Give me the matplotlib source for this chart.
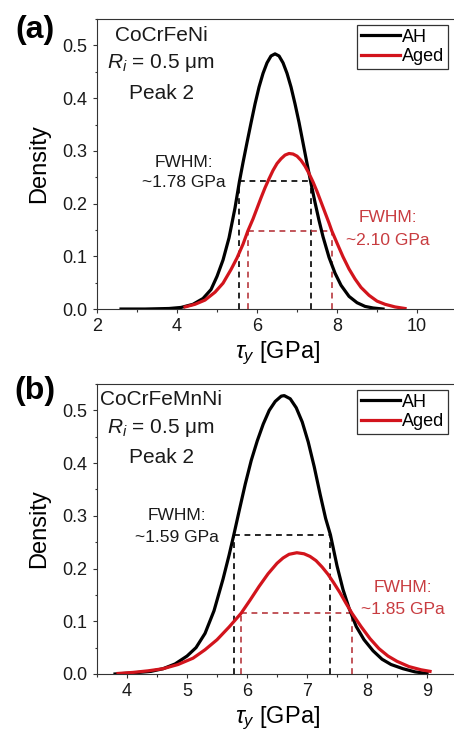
import numpy as np
import matplotlib.pyplot as plt

plt.rcParams['font.family'] = ['Liberation Sans', 'DejaVu Sans']
plt.rcParams['mathtext.fontset'] = 'custom'
plt.rcParams['mathtext.rm'] = 'Liberation Sans'
plt.rcParams['mathtext.it'] = 'Liberation Sans:italic'

# ---- panel (a) CoCrFeNi ----
a_ah_x = [2.6, 3.2, 3.8, 4.1, 4.4, 4.65, 4.85, 5.0, 5.15, 5.3, 5.45, 5.56, 5.65, 5.75, 5.85,
          5.95, 6.05, 6.15, 6.25, 6.35, 6.45, 6.55, 6.65, 6.75, 6.85, 6.95, 7.05, 7.15, 7.25,
          7.34, 7.45, 7.55, 7.65, 7.8, 7.95, 8.1, 8.3, 8.5, 8.7, 8.9, 9.15]
a_ah_y = [0.000, 0.000, 0.001, 0.003, 0.009, 0.020, 0.037, 0.062, 0.093, 0.135, 0.192, 0.242,
          0.278, 0.316, 0.353, 0.389, 0.421, 0.447, 0.467, 0.480, 0.484, 0.480, 0.467, 0.447,
          0.421, 0.389, 0.354, 0.315, 0.276, 0.242, 0.202, 0.168, 0.137, 0.098, 0.068, 0.045,
          0.024, 0.012, 0.005, 0.002, 0.000]
a_aged_x = [4.2, 4.45, 4.7, 4.95, 5.15, 5.35, 5.5, 5.65, 5.77, 5.9, 6.0, 6.1, 6.2, 6.3, 6.4,
            6.5, 6.6, 6.7, 6.8, 6.9, 7.0, 7.1, 7.2, 7.3, 7.4, 7.5, 7.6, 7.7, 7.8, 7.87, 8.0,
            8.15, 8.3, 8.45, 8.6, 8.8, 9.0, 9.2, 9.45, 9.7]
a_aged_y = [0.004, 0.009, 0.017, 0.032, 0.049, 0.075, 0.097, 0.123, 0.148, 0.171, 0.191, 0.211,
            0.230, 0.247, 0.263, 0.276, 0.285, 0.292, 0.295, 0.294, 0.290, 0.282, 0.271, 0.257,
            0.241, 0.223, 0.203, 0.183, 0.163, 0.148, 0.125, 0.099, 0.076, 0.057, 0.041, 0.026,
            0.015, 0.009, 0.004, 0.001]
a_fwhm_ah = [5.56, 7.34, 0.242]
a_fwhm_aged = [5.77, 7.87, 0.1475]

# ---- panel (b) CoCrFeMnNi ----
b_ah_x = [3.8, 4.1, 4.4, 4.6, 4.8, 5.0, 5.15, 5.3, 5.45, 5.6, 5.7, 5.78, 5.87, 5.97, 6.07,
          6.17, 6.27, 6.37, 6.47, 6.57, 6.62, 6.72, 6.82, 6.92, 7.02, 7.12, 7.22, 7.31, 7.39,
          7.5, 7.6, 7.7, 7.82, 7.95, 8.1, 8.25, 8.4, 8.6, 8.8, 9.0]
b_ah_y = [0.000, 0.002, 0.005, 0.010, 0.019, 0.034, 0.050, 0.077, 0.120, 0.180, 0.225, 0.264,
          0.310, 0.360, 0.405, 0.442, 0.474, 0.500, 0.517, 0.527, 0.528, 0.522, 0.505, 0.478,
          0.440, 0.393, 0.340, 0.295, 0.264, 0.205, 0.160, 0.125, 0.090, 0.065, 0.044, 0.028,
          0.018, 0.010, 0.004, 0.001]
b_aged_x = [3.85, 4.1, 4.35, 4.6, 4.85, 5.1, 5.3, 5.5, 5.7, 5.9, 6.05, 6.2, 6.35, 6.5, 6.6,
            6.7, 6.83, 6.95, 7.05, 7.15, 7.25, 7.35, 7.45, 7.55, 7.65, 7.75, 7.9, 8.05, 8.2,
            8.35, 8.5, 8.7, 8.9, 9.05]
b_aged_y = [0.001, 0.003, 0.006, 0.010, 0.018, 0.030, 0.046, 0.065, 0.089, 0.115, 0.140, 0.166,
            0.190, 0.210, 0.220, 0.227, 0.230, 0.228, 0.223, 0.215, 0.203, 0.189, 0.172, 0.154,
            0.134, 0.115, 0.090, 0.067, 0.048, 0.034, 0.024, 0.014, 0.008, 0.005]
b_fwhm_ah = [5.78, 7.39, 0.264]
b_fwhm_aged = [5.90, 7.75, 0.1152]

labels = ['AH', 'Aged']
fwhm_a = ['~1.78 GPa', '~2.10 GPa']
fwhm_b = ['~1.59 GPa', '~1.85 GPa']

RED = '#d2141c'
RED_D = '#b8383e'
RED_T = '#c83c40'
AX_C = '#333333'


def dashed_box(ax, f, col):
    x0, x1, h = f
    kw = dict(color=col, lw=1.2, linestyle=(0, (3.5, 2.8)), zorder=1.5)
    ax.plot([x0, x0], [0, h], **kw)
    ax.plot([x1, x1], [0, h], **kw)
    ax.plot([x0, x1], [h, h], **kw)


def panel(ax, ah_x, ah_y, ag_x, ag_y, f_ah, f_ag, alloy, txt, pos, xlim, xmaj):
    dashed_box(ax, f_ah, 'black')
    dashed_box(ax, f_ag, RED_D)
    l1, = ax.plot(ah_x, ah_y, color='black', lw=2.3, zorder=2, solid_joinstyle='round')
    l2, = ax.plot(ag_x, ag_y, color=RED, lw=2.3, zorder=2.5, solid_joinstyle='round')

    ax.set_xlim(*xlim)
    ax.set_ylim(0, 0.55)
    ax.set_xticks(np.arange(np.ceil(xlim[0]), xlim[1] + 0.01, xmaj)
                  if xmaj == 1 else np.arange(2, 11, 2))
    ax.set_xticks(np.arange(xlim[0], xlim[1] + 0.01, xmaj / 2), minor=True)
    ax.set_yticks(np.arange(0, 0.51, 0.1))
    ax.set_yticks(np.arange(0.05, 0.551, 0.1), minor=True)
    ax.yaxis.set_major_formatter(plt.FormatStrFormatter('%.1f'))
    ax.tick_params(which='both', direction='out', color=AX_C, width=0.8,
                   labelsize=13, labelcolor='#1a1a1a', top=False, right=False)
    ax.tick_params(which='major', length=3.2, pad=3.5)
    ax.tick_params(which='minor', length=1.8)
    for s in ax.spines.values():
        s.set_color(AX_C)
        s.set_linewidth(0.8)

    ax.set_ylabel('Density', fontsize=17, labelpad=9)
    ax.set_xlabel(r'$\tau_y$ [GPa]', fontsize=17, labelpad=3)

    ax.text(0.178, 0.945, alloy, transform=ax.transAxes, fontsize=15,
            ha='center', va='center', color='#1a1a1a')
    ax.text(0.178, 0.848, r'$R_i$ = 0.5 μm', transform=ax.transAxes, fontsize=15,
            ha='center', va='center', color='#1a1a1a')
    ax.text(0.178, 0.745, 'Peak 2', transform=ax.transAxes, fontsize=15,
            ha='center', va='center', color='#1a1a1a')

    (bx, by1, by2), (rx, ry1, ry2) = pos
    ax.text(bx, by1, 'FWHM:', transform=ax.transAxes, fontsize=12.5,
            ha='center', va='center', color='#1a1a1a')
    ax.text(bx, by2, txt[0], transform=ax.transAxes, fontsize=12.5,
            ha='center', va='center', color='#1a1a1a')
    ax.text(rx, ry1, 'FWHM:', transform=ax.transAxes, fontsize=12.5,
            ha='center', va='center', color=RED_T)
    ax.text(rx, ry2, txt[1], transform=ax.transAxes, fontsize=12.5,
            ha='center', va='center', color=RED_T)

    leg = ax.legend([l1, l2], labels, loc='upper right', bbox_to_anchor=(0.975, 0.979),
                    borderaxespad=0, fancybox=False, framealpha=1, edgecolor=AX_C,
                    fontsize=13, handlelength=2.2, handletextpad=0.1, borderpad=0.2,
                    labelspacing=0.15)
    leg.get_frame().set_linewidth(0.9)


fig = plt.figure(figsize=(4.54, 7.33), dpi=100)
ax_a = fig.add_axes([0.2137, 0.5784, 0.793, 0.3956])
ax_b = fig.add_axes([0.2137, 0.0805, 0.793, 0.3956])

panel(ax_a, a_ah_x, a_ah_y, a_aged_x, a_aged_y, a_fwhm_ah, a_fwhm_aged,
      'CoCrFeNi', fwhm_a, [(0.241, 0.507, 0.438), (0.807, 0.314, 0.238)], (2, 11), 2)
panel(ax_b, b_ah_x, b_ah_y, b_aged_x, b_aged_y, b_fwhm_ah, b_fwhm_aged,
      'CoCrFeMnNi', fwhm_b, [(0.222, 0.548, 0.472), (0.85, 0.297, 0.224)], (3.5, 9.5), 1)

fig.text(0.077, 0.959, '(a)', fontsize=23, fontweight='bold', ha='center', va='center')
fig.text(0.077, 0.4666, '(b)', fontsize=23, fontweight='bold', ha='center', va='center')

fig.savefig('out.png', dpi=100)
